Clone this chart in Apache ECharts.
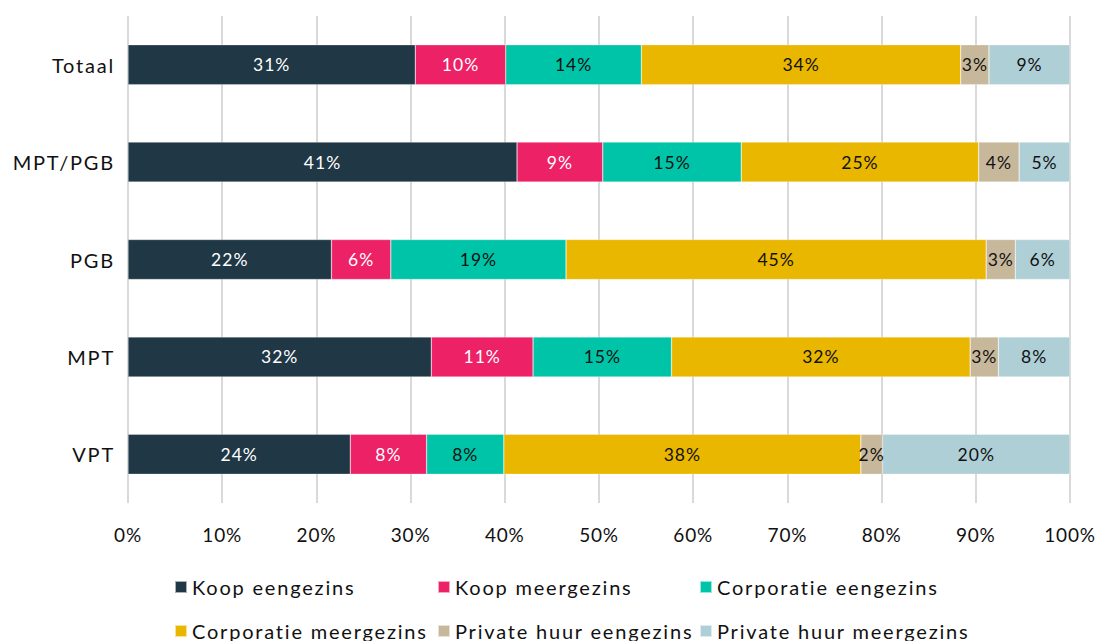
<!DOCTYPE html>
<html>
<head>
<meta charset="utf-8">
<style>
  html, body { margin: 0; padding: 0; background: #fff; }
  #chart { width: 1099px; height: 641px; }
  /* looser tracking for the chart texts, keyed by their font size */
  #chart text[style*="20px"] { letter-spacing: 1.8px; }
  #chart text[style*="19px"] { letter-spacing: 0.8px; }
  #chart text[style*="17.5px"] { letter-spacing: 1px; }
</style>
<script src="https://cdn.jsdelivr.net/npm/echarts@6/dist/echarts.min.js"></script>
</head>
<body>
<div id="chart"></div>
<script>
// Woningtype per groep (aandeel in %)
const categories = ['Totaal', 'MPT/PGB', 'PGB', 'MPT', 'VPT'];

const koopEengezins        = [30.5, 41.3, 21.6, 32.2, 23.6];
const koopMeergezins       = [9.6,  9.1,  6.3,  10.8, 8.1];
const corporatieEengezins  = [14.4, 14.7, 18.6, 14.7, 8.2];
const corporatieMeergezins = [33.9, 25.2, 44.6, 31.7, 37.9];
const privateEengezins     = [3.0,  4.3,  3.1,  3.0,  2.3];
const privateMeergezins    = [8.6,  5.4,  5.8,  7.6,  19.9];

const seriesNames = [
  'Koop eengezins', 'Koop meergezins', 'Corporatie eengezins',
  'Corporatie meergezins', 'Private huur eengezins', 'Private huur meergezins'
];
const seriesData = [
  koopEengezins, koopMeergezins, corporatieEengezins,
  corporatieMeergezins, privateEengezins, privateMeergezins
];
const colors = ['#203746', '#EC2166', '#00C4A7', '#E9B600', '#C8B89B', '#AECFD6'];
const labelColors = ['#ffffff', '#ffffff', '#111111', '#111111', '#111111', '#111111'];

const FONT = 'Lato, "Open Sans", sans-serif';

const chart = echarts.init(document.getElementById('chart'), null, { renderer: 'svg' });

const series = seriesNames.map((name, i) => ({
  name: name,
  type: 'bar',
  stack: 'total',
  barWidth: 40,
  data: seriesData[i],
  itemStyle: { color: colors[i], borderColor: 'rgba(255,255,255,0.6)', borderWidth: 0.5 },
  label: {
    show: true,
    position: 'inside',
    color: labelColors[i],
    fontFamily: FONT,
    fontSize: 17.5,
    formatter: p => Math.round(p.value) + '%'
  },
  emphasis: { disabled: true }
}));

// legend laid out in two rows of three fixed columns
const legendCols = [174, 437, 699];
const legendRows = [577, 621];
const legends = seriesNames.map((name, i) => ({
  data: [name],
  left: legendCols[i % 3],
  top: legendRows[Math.floor(i / 3)],
  padding: 0,
  icon: 'rect',
  itemWidth: 12,
  itemHeight: 12,
  itemTextGap: 6,
  selectedMode: false,
  textStyle: { fontFamily: FONT, fontSize: 20, color: '#111' }
}));

chart.setOption({
  animation: false,
  color: colors,
  grid: { left: 128, right: 29, top: 16, bottom: 138, containLabel: false },
  xAxis: {
    type: 'value',
    min: 0,
    max: 100,
    interval: 10,
    axisLine: { show: false },
    axisTick: { show: false },
    splitLine: { show: true, lineStyle: { color: '#d9d9d9', width: 2 } },
    axisLabel: {
      formatter: '{value}%',
      fontFamily: FONT,
      fontSize: 19,
      color: '#111',
      margin: 22
    }
  },
  yAxis: {
    type: 'category',
    data: categories,
    inverse: true,
    axisLine: { show: false },
    axisTick: { show: false },
    axisLabel: { fontFamily: FONT, fontSize: 20, color: '#111', margin: 13 }
  },
  legend: legends,
  series: series
});
</script>
</body>
</html>
